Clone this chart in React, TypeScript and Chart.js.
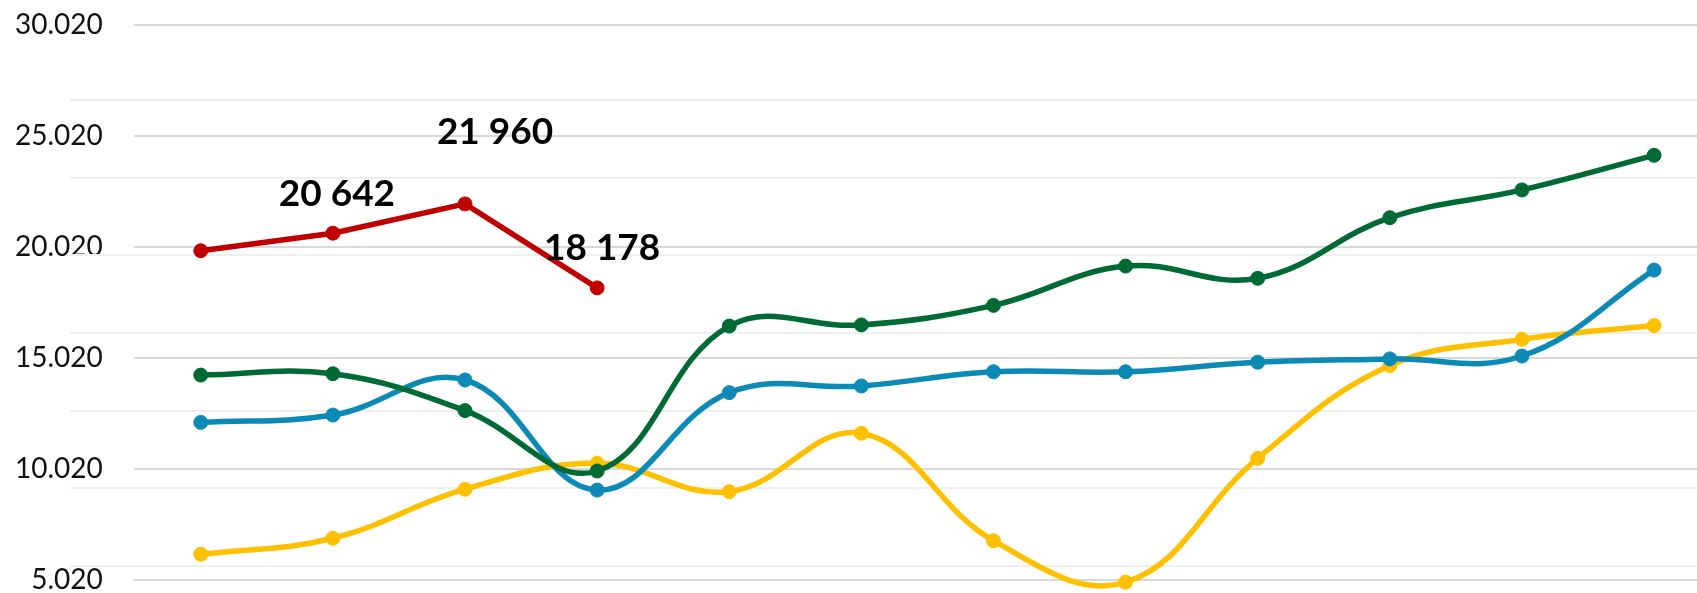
import React, { useEffect, useRef } from 'react';
import { Chart, registerables } from 'chart.js';

Chart.register(...registerables);

// ---- data ----
const categories = ['1', '2', '3', '4', '5', '6', '7', '8', '9', '10', '11', '12'];
const redValues = [19850, 20642, 21960, 18178];
const greenValues = [14250, 14310, 12650, 9930, 16460, 16510, 17390, 19160, 18610, 21340, 22590, 24150];
const blueValues = [12120, 12450, 14030, 9070, 13460, 13760, 14400, 14400, 14830, 14980, 15110, 18980];
const yellowValues = [6180, 6900, 9110, 10280, 9000, 11630, 6790, 4920, 10500, 14680, 15860, 16480];
const tickValues = [5020, 10020, 15020, 20020, 25020, 30020];
const tickLabels = ['5.020', '10.020', '15.020', '20.020', '25.020', '30.020'];
const minorGridValues = [5650, 9150, 12650, 16150, 19650, 23140, 26640];
const redLabelIndices = [1, 2, 3];

// ---- layout / style ----
const labelOffsets: Record<number, [number, number]> = { 1: [4, -39], 2: [30, -72], 3: [5, -40] };

const fmt = (v: number) => String(v).replace(/\B(?=(\d{3})+(?!\d))/g, ' ');

const toPoints = (vals: number[]) => vals.map((v, i) => ({ x: i, y: v, label: categories[i] }));

const minorGridPlugin = {
  id: 'minorGrid',
  beforeDatasetsDraw(chart: any) {
    const { ctx, chartArea, scales } = chart;
    const y = scales.y;
    ctx.save();
    ctx.strokeStyle = '#efefef';
    ctx.lineWidth = 2;
    minorGridValues.forEach((v) => {
      const py = Math.round(y.getPixelForValue(v));
      ctx.beginPath();
      ctx.moveTo(70, py);
      ctx.lineTo(chartArea.right, py);
      ctx.stroke();
    });
    ctx.restore();
  },
};

const dataLabelPlugin = {
  id: 'redLabels',
  afterDatasetsDraw(chart: any) {
    const { ctx } = chart;
    const meta = chart.getDatasetMeta(0);
    ctx.save();
    ctx.font = 'bold 37px Lato';
    ctx.fillStyle = '#000';
    ctx.textAlign = 'center';
    ctx.textBaseline = 'middle';
    redLabelIndices.forEach((i) => {
      const el = meta.data[i];
      if (!el) return;
      const [dx, dy] = labelOffsets[i];
      ctx.fillText(fmt(redValues[i]), el.x + dx, el.y + dy);
    });
    ctx.restore();
  },
};

export default function App() {
  const ref = useRef<HTMLCanvasElement | null>(null);

  useEffect(() => {
    if (!ref.current) return;
    const mk = (label: string, vals: number[], color: string, tension: number) => ({
      label,
      data: toPoints(vals),
      borderColor: color,
      backgroundColor: color,
      pointBackgroundColor: color,
      pointBorderColor: color,
      borderWidth: 5.5,
      pointRadius: 7,
      pointBorderWidth: 1,
      tension,
      clip: false as any,
    });
    const chart = new Chart(ref.current, {
      type: 'line',
      data: {
        datasets: [
          mk('Red', redValues, '#C00000', 0),
          mk('Green', greenValues, '#006A35', 0.4),
          mk('Blue', blueValues, '#0C8AB6', 0.4),
          mk('Yellow', yellowValues, '#FFC000', 0.4),
        ],
      },
      options: {
        animation: false,
        responsive: true,
        maintainAspectRatio: false,
        layout: { autoPadding: false, padding: { left: 15, top: 20, bottom: 0, right: 0 } },
        elements: { line: { capBezierPoints: false } },
        plugins: { legend: { display: false }, tooltip: { enabled: false }, title: { display: false } },
        scales: {
          x: {
            type: 'linear',
            display: false,
            min: -0.507,
            max: 11.325,
          },
          y: {
            type: 'linear',
            min: 4750,
            max: 30245,
            afterBuildTicks: (scale: any) => {
              scale.ticks = tickValues.map((v) => ({ value: v }));
            },
            ticks: {
              autoSkip: false,
              padding: 0,
              color: '#111',
              font: { family: 'Lato', size: 28, lineHeight: 0.5 },
              callback: (v: any) => tickLabels[tickValues.indexOf(Number(v))] ?? '',
            },
            grid: {
              color: '#d9d9d9',
              lineWidth: 2,
              drawTicks: true,
              tickLength: 31,
              tickColor: 'rgba(0,0,0,0)',
            },
            border: { display: false },
          },
        },
      },
      plugins: [minorGridPlugin, dataLabelPlugin],
    });
    return () => chart.destroy();
  }, []);

  return (
    <div style={{ position: 'absolute', left: 0, top: 0, width: 1697, height: 593, background: '#fff' }}>
      <canvas ref={ref} />
    </div>
  );
}
